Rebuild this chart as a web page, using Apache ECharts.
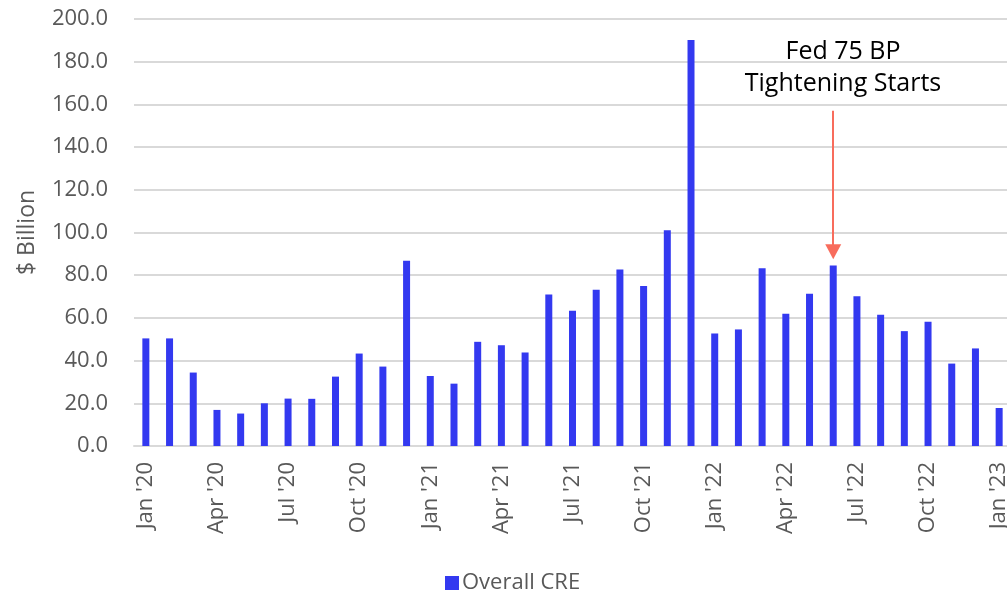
<!DOCTYPE html>
<html>
<head>
<meta charset="utf-8">
<script src="https://cdn.jsdelivr.net/npm/echarts@6/dist/echarts.min.js"></script>
<style>
html,body{margin:0;padding:0;background:#fff;overflow:hidden;}
#chart{width:1007px;height:591px;}
</style>
</head>
<body>
<div id="chart"></div>
<script>
const categories = [
  "Jan '20","Feb '20","Mar '20","Apr '20","May '20","Jun '20","Jul '20","Aug '20","Sep '20","Oct '20","Nov '20","Dec '20",
  "Jan '21","Feb '21","Mar '21","Apr '21","May '21","Jun '21","Jul '21","Aug '21","Sep '21","Oct '21","Nov '21","Dec '21",
  "Jan '22","Feb '22","Mar '22","Apr '22","May '22","Jun '22","Jul '22","Aug '22","Sep '22","Oct '22","Nov '22","Dec '22",
  "Jan '23"
];
const overallCRE = [
  50.4, 50.4, 34.4, 16.9, 15.2, 20.0, 22.2, 22.1, 32.5, 43.3, 37.2, 86.8,
  32.8, 29.2, 48.8, 47.2, 43.8, 71.0, 63.3, 73.2, 82.7, 74.9, 101.0, 190.2,
  52.7, 54.6, 83.2, 61.9, 71.3, 84.5, 70.1, 61.5, 53.8, 58.2, 38.6, 45.7,
  17.8
];
const seriesName = 'Overall CRE';
const annotationLines = ['Fed 75 BP', 'Tightening Starts'];
const annotationIndex = 29;          // Jun '22
const arrowFrom = 157;               // value at arrow tail
const arrowTo = 91;                  // value at arrow tip

const FONT = '"Open Sans", "DejaVu Sans", sans-serif';
const chart = echarts.init(document.getElementById('chart'), null, {renderer: 'canvas'});

chart.setOption({
  animation: false,
  backgroundColor: '#ffffff',
  grid: { left: 134, top: 19, width: 877, bottom: 145, containLabel: false, outerBoundsMode: 'none' },
  legend: {
    data: [seriesName],
    left: 440, top: 567,
    itemWidth: 14, itemHeight: 14, itemGap: 6,
    icon: 'rect',
    textStyle: { color: '#595959', fontSize: 22, fontFamily: FONT, padding: [0,0,0,-2] }
  },
  xAxis: {
    type: 'category',
    data: categories,
    boundaryGap: true,
    axisLine: { show: true, lineStyle: { color: '#d9d9d9', width: 2 } },
    axisTick: { show: false },
    axisLabel: {
      interval: 2,
      rotate: 90,
      margin: 16,
      color: '#595959',
      fontSize: 22,
      fontFamily: FONT,
      hideOverlap: false
    }
  },
  yAxis: {
    type: 'value',
    min: 0, max: 200, interval: 20,
    name: '$ Billion',
    nameLocation: 'middle',
    nameGap: 95,
    nameRotate: 90,
    nameTextStyle: { color: '#595959', fontSize: 23, fontFamily: FONT },
    axisLine: { show: false },
    axisTick: { show: false },
    axisLabel: {
      margin: 26,
      color: '#595959',
      fontSize: 22,
      fontFamily: FONT,
      formatter: v => v.toFixed(1)
    },
    splitLine: { lineStyle: { color: '#d9d9d9', width: 2 } }
  },
  series: [{
    name: seriesName,
    type: 'bar',
    data: overallCRE,
    barWidth: 7,
    itemStyle: { color: '#3339F0' },
    markLine: {
      silent: true,
      symbol: ['none', 'triangle'],
      symbolSize: [16, 15],
      label: { show: false },
      lineStyle: { color: '#F86C5C', width: 2, type: 'solid' },
      data: [[
        { coord: [annotationIndex, arrowFrom] },
        { coord: [annotationIndex, arrowTo] }
      ]]
    }
  }],
  graphic: [{
    type: 'text',
    left: 742, top: 36,
    style: {
      text: annotationLines.join('\n'),
      fill: '#000000',
      font: '25px ' + FONT,
      lineHeight: 32,
      textAlign: 'center',
      width: 202
    }
  }]
});
</script>
</body>
</html>
